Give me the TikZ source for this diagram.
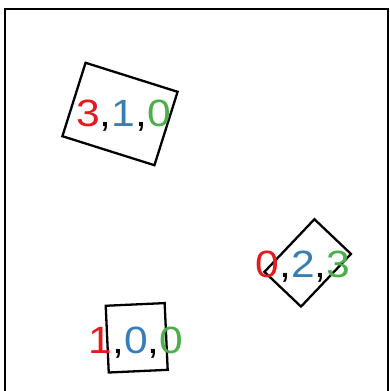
\documentclass[tikz,border=0pt]{standalone}
\usepackage{fontspec}
\setmainfont{Liberation Sans}
\definecolor{cred}{HTML}{E41A1C}
\definecolor{cblue}{HTML}{377EB8}
\definecolor{cgreen}{HTML}{4DAF4A}
\newcommand{\trip}[3]{\scalebox{1.12}[1]{\fontsize{38}{38}\selectfont\textcolor{cred}{#1},\textcolor{cblue}{#2},\textcolor{cgreen}{#3}}}
\begin{document}
\begin{tikzpicture}[x=1pt,y=-1pt,
  boxshape/.style={draw, line width=2.3pt, inner sep=0pt, rectangle},
  lbl/.style={anchor=base, inner sep=0pt}]
\useasboundingbox (0,0) rectangle (389,391);
\clip (0,0) rectangle (389,391);
\draw[line width=2.3pt] (5,9) rectangle (388,420);
\node[boxshape, minimum width=96.5pt, minimum height=77pt, rotate=-17.5] (b1) at (120,114) {};
\node[boxshape, minimum width=72.6pt, minimum height=50.4pt, rotate=46.5] (b2) at (307.7,262.9) {};
\node[boxshape, minimum width=59pt, minimum height=66.8pt, rotate=2.6] (b3) at (136.7,337.8) {};
\node[lbl] (t1) at (123.5,126.5) {\trip{3}{1}{0}};
\node[lbl] (t2) at (303,277.5) {\trip{0}{2}{3}};
\node[lbl] (t3) at (136,353.5) {\trip{1}{0}{0}};
\end{tikzpicture}
\end{document}
